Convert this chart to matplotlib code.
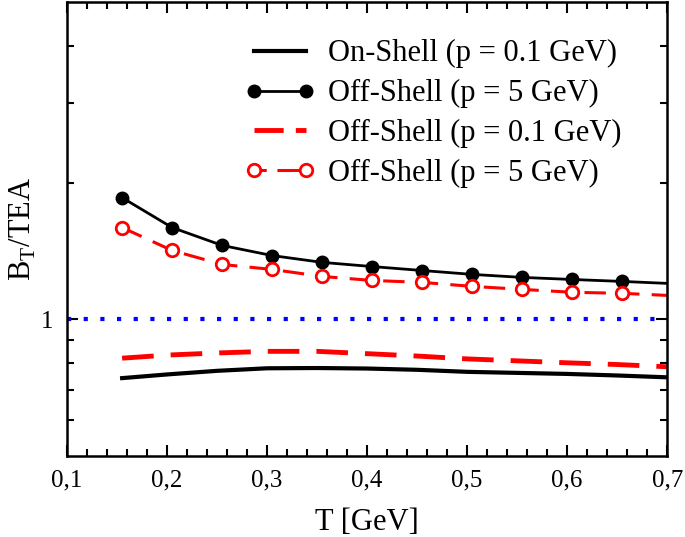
import matplotlib
matplotlib.use("Agg")
import matplotlib.pyplot as plt
from matplotlib.legend_handler import HandlerLine2D
from matplotlib.ticker import FixedLocator, NullFormatter, FixedFormatter, MultipleLocator

plt.rcParams['font.family'] = ['Liberation Serif', 'DejaVu Serif']
plt.rcParams['mathtext.fontset'] = 'custom'
plt.rcParams['mathtext.rm'] = 'Liberation Serif'

# temperature grid (GeV)
T_line = [0.155, 0.2, 0.25, 0.3, 0.35, 0.4, 0.45, 0.5, 0.55, 0.6, 0.65, 0.7]
T_mark = [0.155, 0.205, 0.255, 0.305, 0.355, 0.405, 0.455, 0.505, 0.555, 0.605, 0.655, 0.7]

# B_T / TEA
on_shell_p01 = [0.742, 0.756, 0.770, 0.780, 0.781, 0.779, 0.774, 0.766, 0.762, 0.758, 0.752, 0.745]
off_shell_p01 = [0.821, 0.834, 0.843, 0.850, 0.850, 0.840, 0.830, 0.818, 0.810, 0.802, 0.795, 0.786]
off_shell_p5 = [1.854, 1.593, 1.455, 1.382, 1.335, 1.307, 1.281, 1.256, 1.237, 1.224, 1.212, 1.200]
off_shell_p5_red = [1.593, 1.418, 1.321, 1.288, 1.243, 1.218, 1.206, 1.182, 1.164, 1.147, 1.141, 1.129]

fig = plt.figure(figsize=(6.85, 5.37), dpi=100)
ax = fig.add_axes([0.098, 0.151, 0.876, 0.845])

l1, = ax.plot(T_line, on_shell_p01, color='black', lw=3, label='On-Shell (p = 0.1 GeV)')
l2, = ax.plot(T_mark, off_shell_p5, color='black', lw=2, marker='o', ms=9,
              markevery=slice(0, 11), label='Off-Shell (p = 5 GeV)')
l3, = ax.plot(T_line, off_shell_p01, color='red', lw=3.5, dashes=(6.5, 3.5),
              label='Off-Shell (p = 0.1 GeV)')
l4, = ax.plot(T_mark, off_shell_p5_red, color='red', lw=2.2, dashes=(7, 4), marker='o', ms=9,
              mfc='white', mec='red', mew=2, markevery=slice(0, 11),
              label='Off-Shell (p = 5 GeV)')
ax.axhline(1.0, color='blue', lw=3, dashes=(1, 3))

ax.set_yscale('log')
ax.set_xlim(0.1, 0.7)
ax.set_ylim(0.5, 5)

xt = [0.1, 0.2, 0.3, 0.4, 0.5, 0.6, 0.7]
ax.set_xticks(xt)
ax.set_xticklabels([f'{v:.1f}'.replace('.', ',') for v in xt])
ax.xaxis.set_minor_locator(MultipleLocator(0.02))

ax.yaxis.set_major_locator(FixedLocator([1]))
ax.yaxis.set_major_formatter(FixedFormatter(['1']))
ax.yaxis.set_minor_locator(FixedLocator([0.6, 0.7, 0.8, 0.9, 2, 3, 4]))
ax.yaxis.set_minor_formatter(NullFormatter())

ax.tick_params(which='both', direction='in', top=True, right=True, width=1.5,
               labelsize=18, pad=10)
ax.tick_params(which='major', length=8)
ax.tick_params(which='minor', length=5)
for s in ax.spines.values():
    s.set_linewidth(1.8)

ax.set_xlabel('T [GeV]', fontsize=22, labelpad=12)
ax.set_ylabel(r'B$_\mathrm{T}$/TEA', fontsize=22, va='center')
ax.yaxis.set_label_coords(-0.073, 0.5)


def dash_red(handle, orig):
    handle.update_from(orig)
    handle.set_dashes((6.0, 2.5))


def dash_red_marker(handle, orig):
    handle.update_from(orig)
    handle.set_dashes((4.0, 3.5, 8.0, 30.0))


leg = ax.legend(loc='upper right', frameon=False, fontsize=22, handlelength=2.3,
                numpoints=2, labelspacing=0.35, handletextpad=0.42,
                borderaxespad=0.3, bbox_to_anchor=(0.96, 0.965),
                handler_map={l3: HandlerLine2D(update_func=dash_red),
                             l4: HandlerLine2D(update_func=dash_red_marker)})

fig.savefig('out.png', dpi=100)
